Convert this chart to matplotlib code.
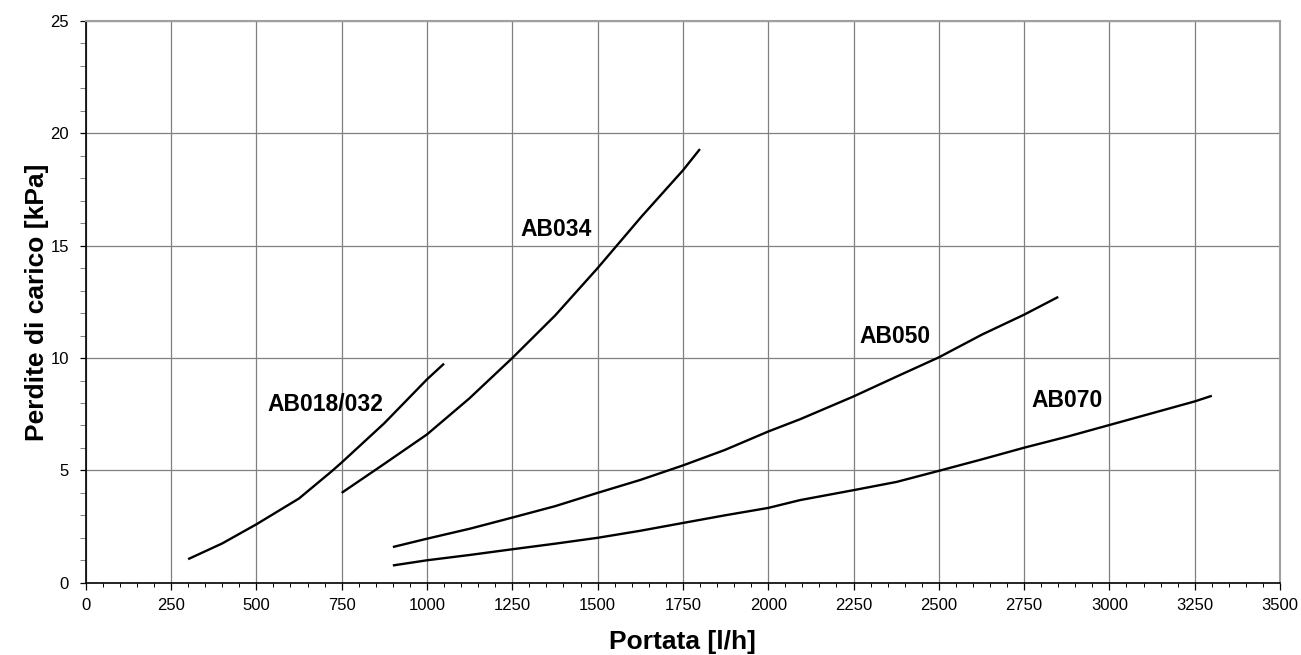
"""
Perdite di carico - grafico portata / perdite
"""

import matplotlib.pyplot as plt
from matplotlib.ticker import MultipleLocator

plt.rcParams['font.family'] = ['Liberation Sans', 'DejaVu Sans']

# AB018/032
x_ab018 = [300, 400, 500, 625, 720, 750, 875, 1000, 1050]
y_ab018 = [1.05, 1.75, 2.6, 3.75, 4.95, 5.35, 7.1, 9.05, 9.75]

# AB034
x_ab034 = [750, 871, 1000, 1124, 1250, 1376, 1500, 1629, 1750, 1800]
y_ab034 = [4.0, 5.25, 6.6, 8.2, 10.0, 11.9, 14.0, 16.3, 18.35, 19.3]

# AB050
x_ab050 = [900, 1000, 1127, 1250, 1376, 1500, 1624, 1750, 1873, 2000,
           2094, 2250, 2377, 2500, 2626, 2750, 2850]
y_ab050 = [1.59, 1.96, 2.41, 2.9, 3.41, 4.0, 4.57, 5.22, 5.91, 6.73,
           7.28, 8.29, 9.18, 10.03, 11.04, 11.93, 12.72]

# AB070
x_ab070 = [900, 1000, 1127, 1250, 1376, 1500, 1624, 1750, 1873, 2000,
           2094, 2250, 2377, 2500, 2626, 2750, 2876, 3000, 3124, 3250, 3300]
y_ab070 = [0.77, 1.0, 1.24, 1.49, 1.74, 2.0, 2.31, 2.66, 3.0, 3.33,
           3.68, 4.12, 4.49, 4.98, 5.49, 6.01, 6.5, 7.02, 7.54, 8.07, 8.32]

labels = ['AB018/032', 'AB034', 'AB050', 'AB070']
label_x = [701, 1378, 2372, 2876]
label_y = [7.92, 15.7, 10.97, 8.11]

fig = plt.figure(figsize=(13.01, 6.55), dpi=100)
ax = fig.add_axes([0.0659, 0.1103, 0.918, 0.8577])

for xs, ys in [(x_ab018, y_ab018), (x_ab034, y_ab034),
               (x_ab050, y_ab050), (x_ab070, y_ab070)]:
    ax.plot(xs, ys, color='black', linewidth=1.7, solid_capstyle='butt',
            solid_joinstyle='round', zorder=3)

for name, lx, ly in zip(labels, label_x, label_y):
    ax.text(lx, ly, name, ha='center', va='center', fontsize=16.5, fontweight='bold')

ax.set_xlim(0, 3500)
ax.set_ylim(0, 25)
ax.xaxis.set_major_locator(MultipleLocator(250))
ax.xaxis.set_minor_locator(MultipleLocator(50))
ax.yaxis.set_major_locator(MultipleLocator(5))
ax.yaxis.set_minor_locator(MultipleLocator(1))

ax.grid(True, which='major', color='#808080', linewidth=0.9)
ax.set_axisbelow(True)

ax.tick_params(axis='x', which='major', direction='out', length=5, width=0.9, labelsize=12, pad=6)
ax.tick_params(axis='x', which='minor', direction='out', length=3, width=0.7)
ax.tick_params(axis='y', which='major', direction='out', length=4, width=0.9, labelsize=12, pad=8)
ax.tick_params(axis='y', which='minor', direction='out', length=4, width=0.7, color='#808080')

for side in ['left', 'bottom']:
    ax.spines[side].set_color('black')
    ax.spines[side].set_linewidth(1.2)
for side in ['top', 'right']:
    ax.spines[side].set_color('#a0a0a0')
    ax.spines[side].set_linewidth(1.5)

ax.set_xlabel('Portata [l/h]', fontsize=19, fontweight='bold', labelpad=12)
ax.set_ylabel('Perdite di carico [kPa]', fontsize=19, fontweight='bold', labelpad=1)

fig.savefig('out.png', dpi=100, facecolor='white')
plt.close()
